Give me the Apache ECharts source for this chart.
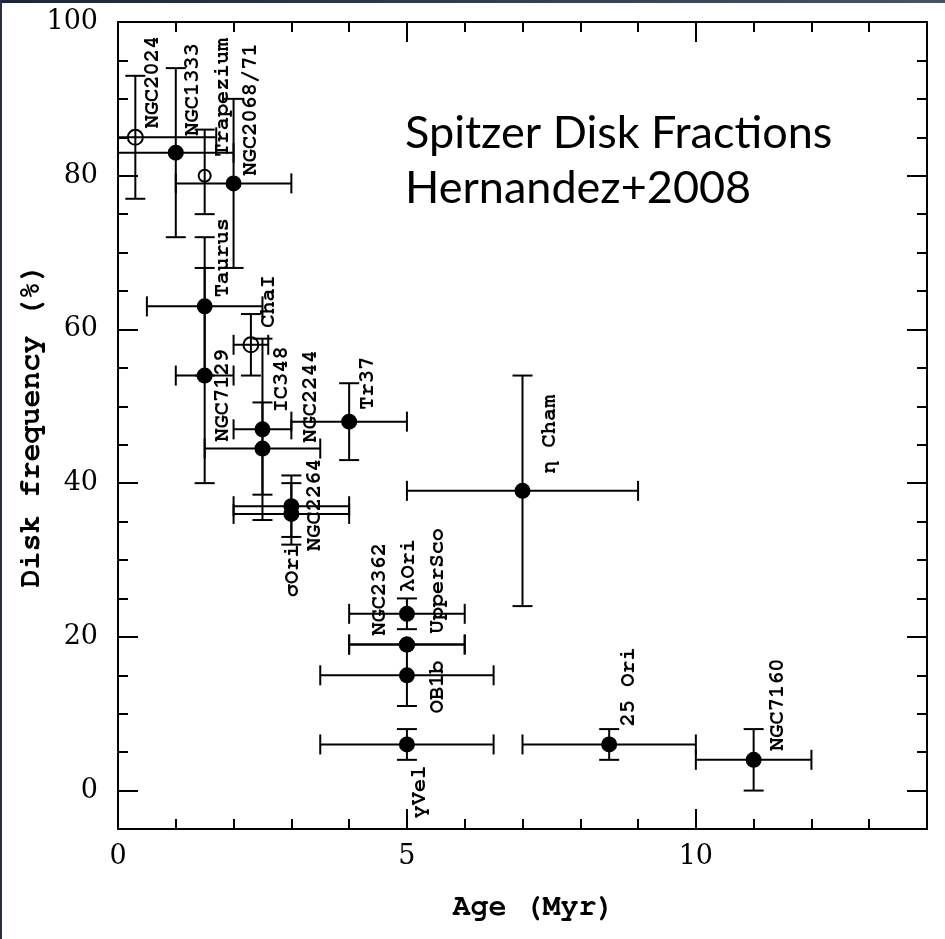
<!DOCTYPE html>
<html>
<head>
<meta charset="utf-8">
<script src="https://cdn.jsdelivr.net/npm/echarts@6/dist/echarts.min.js"></script>
<style>
  html, body { margin: 0; padding: 0; background: #fff; }
  #chart { position: absolute; left: 0; top: 0; width: 945px; height: 939px; }
  .edge-top { position: absolute; left: 0; top: 0; width: 945px; height: 3px;
              background: linear-gradient(90deg, #1e2535, #4a5162); }
  .edge-left { position: absolute; left: 0; top: 0; width: 2px; height: 939px; background: #283042; }
</style>
</head>
<body>
<div id="chart"></div>
<div class="edge-top"></div>
<div class="edge-left"></div>
<script>
// Cluster disk fractions vs. age (Spitzer, Hernandez et al. 2008)
const clusterNames = ['NGC2024', 'NGC1333', 'Trapezium', 'NGC2068/71', 'Taurus', 'ChaI',
  'NGC7129', 'IC348', 'NGC2244', '\u03c3Ori', 'NGC2264', 'Tr37', '\u03b7 Cham',
  '\u03bbOri', 'NGC2362', 'UpperSco', 'OB1b', '\u03b3Vel', '25 Ori', 'NGC7160'];
const ageMyr    = [0.3, 1.0, 1.5, 2.0, 1.5, 2.3, 1.5, 2.5, 2.5, 3.0, 3.0, 4.0, 7.0, 5.0, 5.0, 5.0, 5.0, 5.0, 8.5, 11.0];
const diskPct   = [85, 83, 80, 79, 63, 58, 54, 47, 44.5, 37, 36, 48, 39, 23, 19, 19, 15, 6, 6, 4];
const ageErrLo  = [1.4, 1.0, 0, 1.0, 1.0, 0.3, 0.5, 0.5, 1.0, 1.0, 1.0, 1.0, 2.0, 1.0, 1.0, 1.0, 1.5, 1.5, 1.5, 1.0];
const ageErrHi  = [1.4, 1.0, 0, 1.0, 1.0, 0.3, 0.5, 0.5, 1.0, 1.0, 1.0, 1.0, 2.0, 1.0, 1.0, 1.0, 1.5, 1.5, 1.5, 1.0];
const pctErrLo  = [8, 11, 5, 11, 9, 4, 14, 11.8, 6, 4, 4, 5, 15, 2, 0, 0, 4, 2, 2, 4];
const pctErrHi  = [8, 11, 6, 11, 9, 4, 14, 11.8, 6, 4, 4, 5, 15, 2, 0, 0, 4, 2, 2, 4];
const openMarker = [true, false, true, false, false, true, false, false, false, false, false,
  false, false, false, false, false, false, false, false, false];
const xTickValues = [0, 5, 10];
const yTickValues = [0, 20, 40, 60, 80, 100];
const titleLines = ['Spitzer Disk Fractions', 'Hernandez+2008'];

// Label placement in pixels relative to each marker: [dx to text column, dy to text start]
const labelPlacement = {
  'NGC2024': [16, -9], 'NGC1333': [16, -17], 'Trapezium': [17, -19], 'NGC2068/71': [16, -8],
  'Taurus': [17, -9], 'ChaI': [16, -17], 'NGC7129': [17, 66], 'IC348': [18, -17],
  'NGC2244': [47, -6], '\u03c3Ori': [0, 91], 'NGC2264': [22, 37], 'Tr37': [17, -12],
  '\u03b7 Cham': [26, -17], '\u03bbOri': [0, -22], 'NGC2362': [-29, -9], 'UpperSco': [29, -11],
  'OB1b': [29, 38], '\u03b3Vel': [11, 74], '25 Ori': [18, -18], 'NGC7160': [23, -9]
};

const CAP = 10;
const INK = '#000';
const LABEL_FONT = '"FreeMono", "DejaVu Sans Mono", monospace';
const TICK_FONT = '"DejaVu Serif", serif';

const errorData = ageMyr.map((a, i) => [a, diskPct[i], a - ageErrLo[i], a + ageErrHi[i],
  diskPct[i] - pctErrLo[i], diskPct[i] + pctErrHi[i]]);
const filledData = ageMyr.map((a, i) => [a, diskPct[i]]).filter((d, i) => !openMarker[i]);
const openData = ageMyr.map((a, i) => [a, diskPct[i], clusterNames[i]]).filter((d, i) => openMarker[i]);
const labelData = ageMyr.map((a, i) => [a, diskPct[i], i]);

function renderErrorBars(params, api) {
  const x = api.value(0), y = api.value(1);
  const xl = api.value(2), xh = api.value(3), yl = api.value(4), yh = api.value(5);
  const style = { stroke: INK, lineWidth: 2, fill: null };
  const seg = (x1, y1, x2, y2) => ({ type: 'line', shape: { x1, y1, x2, y2 }, style });
  const children = [];
  if (xh > xl) {
    const a = api.coord([xl, y]), b = api.coord([xh, y]);
    children.push(seg(a[0], a[1], b[0], b[1]));
    children.push(seg(a[0], a[1] - CAP, a[0], a[1] + CAP));
    children.push(seg(b[0], b[1] - CAP, b[0], b[1] + CAP));
  }
  if (yh > yl) {
    const a = api.coord([x, yl]), b = api.coord([x, yh]);
    children.push(seg(a[0], a[1], b[0], b[1]));
    children.push(seg(a[0] - CAP, a[1], a[0] + CAP, a[1]));
    children.push(seg(b[0] - CAP, b[1], b[0] + CAP, b[1]));
  }
  return { type: 'group', children };
}

function renderLabel(params, api) {
  const i = api.value(2);
  const name = clusterNames[i];
  const off = labelPlacement[name] || [16, -10];
  const c = api.coord([api.value(0), api.value(1)]);
  return {
    type: 'text',
    x: c[0] + off[0],
    y: c[1] + off[1],
    rotation: Math.PI / 2,
    silent: true,
    style: {
      text: name, fill: INK, fontFamily: LABEL_FONT, fontSize: 22, fontWeight: 'bold',
      align: 'left', verticalAlign: 'middle'
    }
  };
}

function majorAxis(base, showLabels, values) {
  return Object.assign({
    type: 'value',
    nameMoveOverlap: false,
    axisLine: { show: true, onZero: false, lineStyle: { color: INK, width: 2, cap: 'square' } },
    axisTick: { show: true, inside: true, length: 20, customValues: values, lineStyle: { color: INK, width: 2 } },
    axisLabel: { show: showLabels, customValues: values, color: INK, fontFamily: TICK_FONT, fontSize: 27 },
    splitLine: { show: false }
  }, base);
}
function minorAxis(base) {
  return Object.assign({
    type: 'value',
    axisLine: { show: false, onZero: false },
    axisTick: { show: true, inside: true, length: 10, lineStyle: { color: INK, width: 2 } },
    axisLabel: { show: false },
    splitLine: { show: false }
  }, base);
}

const chart = echarts.init(document.getElementById('chart'), null, { renderer: 'canvas' });
chart.setOption({
  animation: false,
  backgroundColor: '#fff',
  grid: { left: 118, right: 18, top: 22, bottom: 110, containLabel: false },
  xAxis: [
    majorAxis({ position: 'bottom', min: 0, max: 14, name: 'Age (Myr)', nameLocation: 'middle', nameGap: 62,
      nameTextStyle: { color: INK, fontFamily: LABEL_FONT, fontSize: 30, fontWeight: 'bold', padding: [0, 0, 0, 22] },
      axisLabel: { show: true, customValues: xTickValues, margin: 14, color: INK, fontFamily: TICK_FONT, fontSize: 27 } },
      true, xTickValues),
    minorAxis({ position: 'bottom', min: 0, max: 14, interval: 1 }),
    majorAxis({ position: 'top', min: 0, max: 14 }, false, xTickValues),
    minorAxis({ position: 'top', min: 0, max: 14, interval: 1 })
  ],
  yAxis: [
    majorAxis({ position: 'left', min: -5, max: 100, name: 'Disk frequency (%)', nameLocation: 'middle', nameGap: 73,
      nameTextStyle: { color: INK, fontFamily: LABEL_FONT, fontSize: 30, fontWeight: 'bold' },
      axisLabel: { show: true, customValues: yTickValues, margin: 20, color: INK, fontFamily: TICK_FONT, fontSize: 27 } },
      true, yTickValues),
    minorAxis({ position: 'left', min: -5, max: 100, interval: 5 }),
    majorAxis({ position: 'right', min: -5, max: 100 }, false, yTickValues),
    minorAxis({ position: 'right', min: -5, max: 100, interval: 5 })
  ],
  graphic: [
    { type: 'text', x: 405, y: 133, silent: true,
      style: { text: titleLines[0], fill: INK, fontFamily: 'Lato', fontSize: 45, verticalAlign: 'middle' } },
    { type: 'text', x: 405, y: 188, silent: true,
      style: { text: titleLines[1], fill: INK, fontFamily: 'Lato', fontSize: 45, verticalAlign: 'middle' } }
  ],
  series: [
    { type: 'custom', name: 'errors', xAxisIndex: 0, yAxisIndex: 0, clip: true,
      renderItem: renderErrorBars, data: errorData, silent: true, z: 2 },
    { type: 'scatter', name: 'filled', xAxisIndex: 0, yAxisIndex: 0, symbol: 'circle', symbolSize: 16,
      itemStyle: { color: INK, opacity: 1 }, data: filledData, silent: true, z: 3 },
    { type: 'scatter', name: 'open', xAxisIndex: 0, yAxisIndex: 0, symbol: 'circle',
      symbolSize: (v) => (v[2] === 'Trapezium' ? 12 : 15),
      itemStyle: { color: 'rgba(0,0,0,0)', borderColor: INK, borderWidth: 2, opacity: 1 },
      data: openData, silent: true, z: 3 },
    { type: 'custom', name: 'labels', xAxisIndex: 0, yAxisIndex: 0, clip: false,
      renderItem: renderLabel, data: labelData, silent: true, z: 4 }
  ]
});
</script>
</body>
</html>
